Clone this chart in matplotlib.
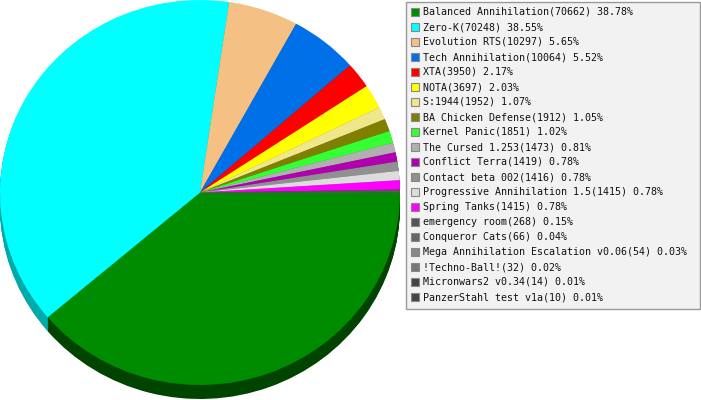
import matplotlib
matplotlib.use("Agg")
import matplotlib.pyplot as plt
from matplotlib.patches import Rectangle
import matplotlib.colors as mcolors

names = ["Balanced Annihilation", "Zero-K", "Evolution RTS", "Tech Annihilation",
         "XTA", "NOTA", "S:1944", "BA Chicken Defense", "Kernel Panic",
         "The Cursed 1.253", "Conflict Terra", "Contact beta 002",
         "Progressive Annihilation 1.5", "Spring Tanks", "emergency room",
         "Conqueror Cats", "Mega Annihilation Escalation v0.06", "!Techno-Ball!",
         "Micronwars2 v0.34", "PanzerStahl test v1a"]
counts = [70662, 70248, 10297, 10064, 3950, 3697, 1952, 1912, 1851, 1473,
          1419, 1416, 1415, 1415, 268, 66, 54, 32, 14, 10]
colors = ["#008c00", "#00ffff", "#f4c084", "#0070e8", "#ff0000", "#ffff00",
          "#f0e68c", "#808000", "#33ff33", "#b0b0b0", "#b000b0", "#909090",
          "#dcdcdc", "#ff00ff", "#555555", "#666666", "#888888", "#777777",
          "#444444", "#444444"]

total = sum(counts)
side_colors = []
for c in colors:
    r, g, b = mcolors.to_rgb(c)
    side_colors.append((r * 0.62, g * 0.62, b * 0.62))
side_colors[0] = "#004400"
side_colors[1] = "#00aaaa"

W, H = 701, 400
fig = plt.figure(figsize=(W / 100, H / 100), dpi=100)

# pie axes: pixels x 0..400, y 0..400 (image coords)
ax = fig.add_axes([0, 0, 400 / W, 1])
ry = 192.5
depth = 14 / ry
nlayers = 15
for k in range(nlayers, 0, -1):
    off = depth * k / nlayers
    ax.pie(counts, colors=side_colors, startangle=0, counterclock=False,
           center=(0, -off), radius=1.0, wedgeprops=dict(linewidth=0, antialiased=True))
ax.pie(counts, colors=colors, startangle=0, counterclock=False,
       center=(0, 0), radius=1.0, wedgeprops=dict(linewidth=0, antialiased=True))
ax.set_aspect("auto")
ax.set_xlim(-1.0, 1.0)
ax.set_ylim(1 - H / ry, 1)
ax.axis("off")

# legend axes in pixel coordinates
lax = fig.add_axes([0, 0, 1, 1])
lax.set_xlim(0, W)
lax.set_ylim(H, 0)
lax.axis("off")
lax.add_patch(Rectangle((405.5, 1.5), 294, 307, facecolor="#f2f2f2",
                        edgecolor="#999999", linewidth=1.0))
for i, (n, c, col) in enumerate(zip(names, counts, colors)):
    yc = 12 + 15 * i
    lax.add_patch(Rectangle((411, yc - 4), 8, 8, facecolor=col,
                            edgecolor="#888888", linewidth=0.8))
    lax.text(423, yc, f"{n}({c}) {100 * c / total:.2f}%", fontsize=7.2,
             family="DejaVu Sans Mono", va="center", ha="left", color="#111111")

fig.savefig("out.png", dpi=100)
